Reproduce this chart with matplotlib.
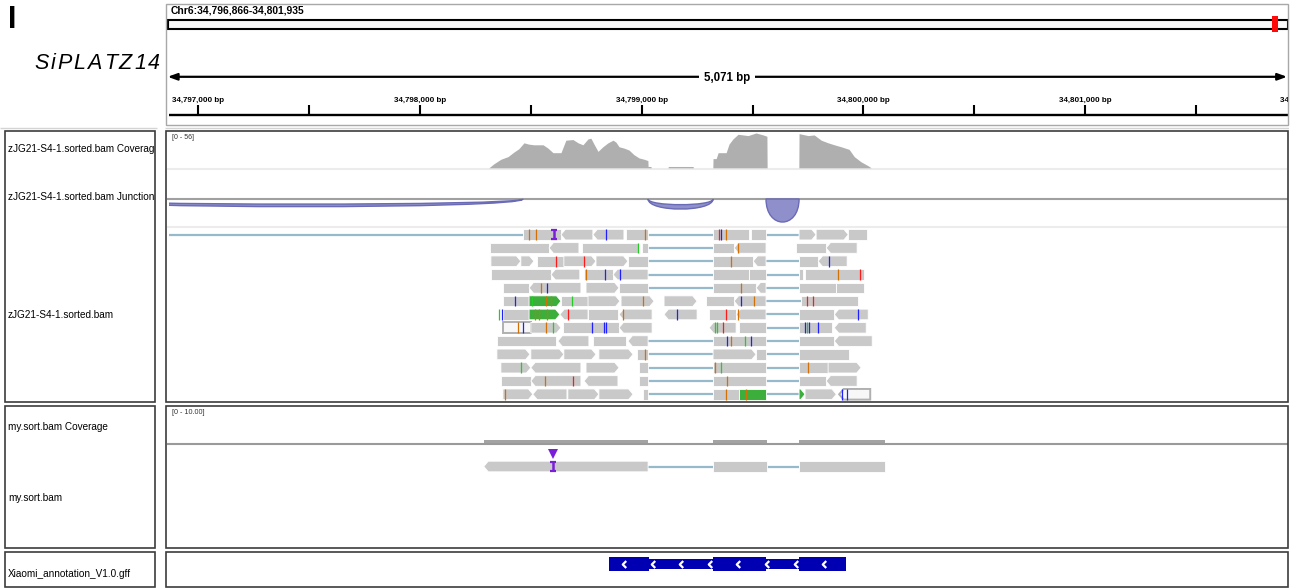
import numpy as np
import matplotlib
matplotlib.use("Agg")
import matplotlib.pyplot as plt
from matplotlib.patches import Rectangle, Polygon, PathPatch
from matplotlib.path import Path

plt.rcParams['font.family'] = ['Liberation Sans', 'DejaVu Sans']

# ---------------- data ----------------
PANEL_TAG = "I"
GENE_NAME = "SiPLATZ14"
CHROM = "Chr6"
START = 34796866
END = 34801935
SPAN_LABEL = "5,071 bp"
CHR_LEN = 35192000

RULER_TICKS = [34797000, 34797500, 34798000, 34798500, 34799000, 34799500,
               34800000, 34800500, 34801000, 34801500, 34802000]
RULER_LABELED = [34797000, 34798000, 34799000, 34800000, 34801000, 34802000]

TRACK_NAMES_1 = ["zJG21-S4-1.sorted.bam Coverage", "zJG21-S4-1.sorted.bam Junctions",
                 "zJG21-S4-1.sorted.bam"]
TRACK_NAMES_2 = ["my.sort.bam Coverage", "my.sort.bam"]
TRACK_NAMES_3 = ["Xiaomi_annotation_V1.0.gff"]
COV1_RANGE = "[0 - 56]"
COV1_MAX = 56
COV2_RANGE = "[0 - 10.00]"
COV2_MAX = 10

# coverage of sample 1 (offset from START in bp, depth)
COV1_POS = [1445, 1467, 1499, 1531, 1558, 1580, 1603, 1625, 1648, 1689, 1711, 1734, 1770,
            1792, 1824, 1847, 1869, 1892, 1905, 1919, 1937, 1959, 1982, 2005, 2018, 2032,
            2054, 2077, 2099, 2122, 2145, 2162, 2163, 2176, 2177, 2253, 2254, 2366, 2367,
            2455, 2456, 2470, 2479, 2515, 2528, 2546, 2569, 2614, 2650, 2682, 2699, 2700,
            2843, 2844, 2885, 2912, 2944, 2975, 3003, 3034, 3070, 3093, 3124, 3156, 3169]
COV1_VAL = [0, 6, 13, 17, 24, 29, 38, 36, 35, 35, 30, 23, 23,
            42, 43, 38, 35, 44, 45, 36, 25, 32, 38, 42, 39, 32,
            30, 27, 20, 15, 13, 11, 2, 2, 0, 0, 2, 2, 0,
            0, 14, 14, 23, 23, 36, 44, 51, 49, 53, 50, 48, 0,
            0, 52, 49, 50, 42, 38, 35, 32, 28, 17, 9, 3, 0]

# splice junctions (offsets, read depth)
JUNC_START = [-406, 2163, 2695]
JUNC_END = [1598, 2456, 2844]
JUNC_DEPTH = [3.2, 4.2, 9.6]

# alignments of sample 1, one list per row: blocks (offsets), strand, fill
ROW_BLOCKS = [
    [[(-450, -300), (1598, 1770)], [(1770, 1914)], [(1914, 2054)], [(2063, 2163), (2456, 2619)],
     [(2628, 2695), (2844, 2921)], [(2921, 3066)], [(3066, 3151)]],
    [[(1449, 1716)], [(1716, 1851)], [(1865, 2118)], [(2136, 2163), (2456, 2551)], [(2551, 2695)],
     [(2831, 2966)], [(2966, 3106)]],
    [[(1454, 1589)], [(1589, 1648)], [(1661, 1783)], [(1783, 1928)], [(1928, 2072)],
     [(2072, 2163), (2456, 2637)], [(2637, 2695), (2844, 2930)], [(2930, 3061)]],
    [[(1454, 1725)], [(1725, 1855)], [(1874, 2005)], [(2005, 2163), (2456, 2620)],
     [(2620, 2695), (2844, 2860)], [(2870, 3138)]],
    [[(1508, 1626)], [(1626, 1860)], [(1883, 2032)], [(2032, 2163), (2456, 2650)],
     [(2650, 2695), (2844, 3012)], [(3012, 3138)]],
    [[(1508, 1626)], [(1626, 1770)], [(1770, 1892)], [(1892, 2036)], [(2041, 2190)],
     [(2235, 2384)], [(2425, 2551)], [(2551, 2695), (2853, 3111)]],
    [[(1508, 1626)], [(1626, 1765)], [(1765, 1892)], [(1892, 2027)], [(2032, 2181)],
     [(2235, 2384)], [(2438, 2560)], [(2560, 2695), (2844, 3003)], [(3003, 3156)]],
    [[(1508, 1634)], [(1634, 1770)], [(1779, 2032)], [(2032, 2181)], [(2438, 2560)],
     [(2574, 2695), (2844, 2994)], [(3003, 3147)]],
    [[(1481, 1747)], [(1756, 1896)], [(1914, 2063)], [(2072, 2163), (2456, 2695), (2844, 3003)],
     [(3003, 3174)]],
    [[(1481, 1630)], [(1634, 1783)], [(1783, 1928)], [(1941, 2095)], [(2113, 2163), (2456, 2650)],
     [(2650, 2695), (2844, 3070)]],
    [[(1499, 1634)], [(1634, 1860)], [(1883, 2032)], [(2122, 2163), (2456, 2695), (2844, 2975)],
     [(2975, 3124)]],
    [[(1499, 1634)], [(1634, 1860)], [(1874, 2027)], [(2122, 2163), (2456, 2695), (2844, 2966)],
     [(2966, 3106)]],
    [[(1508, 1643)], [(1643, 1797)], [(1801, 1941)], [(1941, 2095)], [(2140, 2163), (2456, 2574)],
     [(2574, 2695), (2844, 2871)], [(2871, 3012)], [(3025, 3165)]],
]
ROW_STRANDS = [" -- ++ ", " -  - -", "++ ++ --", " - -  ", " -+ - ", " + +++ -",
               " +- -- --", " + -- -", " - --", "+++++ ", "+-+ +", " -- -", "+-++ ++-"]
ROW_FILLS = ["ggggggg", "ggggggg", "gggggggg", "gggggg", "gggggg", "gGgggggg",
             "gGggggggg", "Wgggggg", "ggggg", "gggggg", "ggggg", "ggggg", "gggggGgW"]

# mismatched bases: row, offset, base
MM_ROW = [0, 0, 0, 0, 0, 0, 0, 1, 1, 2, 2, 2, 2, 3, 3, 3, 3, 3, 4, 4, 4,
          5, 5, 5, 5, 5, 5, 5, 5, 5, 5,
          6, 6, 6, 6, 6, 6, 6, 6, 6, 6, 6,
          7, 7, 7, 7, 7, 7, 7, 7, 7, 7, 7, 7, 7, 7,
          8, 8, 8, 8, 9, 10, 10, 10, 10, 11, 11, 11, 12, 12, 12, 12, 12]
MM_POS = [1625, 1657, 1973, 2149, 2483, 2492, 2515, 2118, 2569, 1747, 1874, 2537, 2980,
          1883, 1969, 2036, 3021, 3120, 1680, 1707, 2583,
          1562, 1640, 1702, 1725, 1820, 2140, 2583, 2642, 2881, 2908,
          1490, 1503, 1652, 1670, 1706, 1802, 2050, 2294, 2515, 2569, 3111,
          1575, 1598, 1702, 1734, 1910, 1964, 1973, 2465, 2474, 2501, 2871, 2881, 2890, 2930,
          2519, 2537, 2601, 2628, 2149, 1589, 2465, 2492, 2885, 1697, 1825, 2519,
          1517, 2515, 2605, 3039, 3061]
MM_BASE = ("GGCGTCG" "AG" "TTGC" "GCCGT" "GCG"
           "CAGGAGCGTT"
           "ACGGGTGCTGC"
           "GCGACCCAATCACC"
           "CGAC" "G" "AGAG" "GTG" "GGGCC")
INS1_ROW, INS1_POS = 0, 1738

# alignment of sample 2
COV2_BLOCKS = [(1422, 2163), (2456, 2700), (2844, 3233)]
COV2_DEPTH = 1
READ2_BLOCKS = [(1422, 2163), (2456, 2700), (2844, 3233)]
READ2_STRAND = "-"
INS2_POS = 1734

# gene annotation
GENE_SPAN = (1987, 3057)
GENE_EXONS = [(1987, 2167), (2456, 2695), (2844, 3057)]

# ---------------- drawing ----------------
W, H, DPI = 1297, 588, 100
fig = plt.figure(figsize=(W / DPI, H / DPI), dpi=DPI)
fig.patch.set_facecolor('white')
renderer = fig.canvas.get_renderer()


def px_axes(x0, y0, x1, y1, z=1):
    ax = fig.add_axes([x0 / W, 1 - y1 / H, (x1 - x0) / W, (y1 - y0) / H])
    ax.set_axis_off()
    ax.set_zorder(z)
    return ax


DX0, DX1 = 168.6, 1292.3   # pixel extent of the genomic window
BASE_COL = {'A': '#22cc22', 'C': '#2020ff', 'G': '#d17105', 'T': '#ff1a1a'}
READ_GREY = '#c9c9c9'
SPLICE_COL = '#96b9cc'
TIP = 20  # arrow tip length in bp

bg = px_axes(0, 0, W, H)
bg.set_xlim(0, W)
bg.set_ylim(H, 0)

# panel tag and gene name (tracked lettering spanning x 34..160 px)
bg.text(7.5, 28.5, PANEL_TAG, fontsize=22, fontweight='bold', va='baseline', ha='left')
name_texts = [bg.text(0, 69, ch, fontsize=15.5, fontstyle='italic', va='baseline', ha='left')
              for ch in GENE_NAME]
widths = [t.get_window_extent(renderer).width for t in name_texts]
track = (126 - sum(widths)) / (len(widths) - 1)
x = 34.0
for t, w in zip(name_texts, widths):
    t.set_x(x)
    x += w + track

# separators in panels
bg.hlines(169, 167, 1288, color='#ececec', lw=1.5)
bg.hlines(198.5, 167, 1288, color='#a0a0a0', lw=1.5)
bg.hlines(226.5, 167, 1288, color='#ececec', lw=1.5)
bg.hlines(444, 167, 1288, color='#9a9a9a', lw=1.5)
bg.hlines(127.5, 0, 157, color='#d4d4d4', lw=1)
bg.hlines(127.5, 165, W, color='#d4d4d4', lw=1)
bg.text(172, 137.5, COV1_RANGE, fontsize=5, va='center', ha='left', color='#333333')
bg.text(172, 412.5, COV2_RANGE, fontsize=5.2, va='center', ha='left', color='#333333')

# ---------- ruler ----------
ax_rf = px_axes(166, 4, 1288, 124)
ax_rf.set_xlim(0, 1)
ax_rf.set_ylim(124, 4)
ax_rf.text(0.0045, 10.8, f"{CHROM}:{START:,}-{END:,}", fontsize=7.4, fontweight='bold',
           va='center', ha='left')
ax_rf.annotate('', xy=(0.0015, 76.8), xytext=(0.9992, 76.8),
               arrowprops=dict(arrowstyle='<|-|>,head_length=0.55,head_width=0.2',
                               lw=1.6, color='black', shrinkA=0, shrinkB=0,
                               mutation_scale=10))
ax_rf.text(0.5, 77.5, SPAN_LABEL, fontsize=8.3, fontweight='bold', ha='center', va='center',
           bbox=dict(fc='white', ec='none', pad=3.5))

ax_r = px_axes(DX0, 4, DX1, 124)
ax_r.set_xlim(START, END)
ax_r.set_ylim(124, 4)
ax_r.hlines(114.6, START, END, color='black', lw=1.7)
ax_r.vlines(RULER_TICKS, 104.8, 114.6, color='black', lw=1.5)
for t in RULER_LABELED:
    ax_r.text(t, 101.5, f"{t:,} bp", fontsize=5.8, fontweight='bold', ha='center',
              va='baseline', clip_on=True)

# ideogram
ax_i = px_axes(168, 15, 1287.5, 33)
ax_i.set_xlim(0, CHR_LEN)
ax_i.set_ylim(33, 15)
ax_i.add_patch(Rectangle((0, 19.6), CHR_LEN, 9, fc='#f8f8f8', ec='black', lw=1.5,
                         clip_on=False))
mid = (START + END) / 2
ax_i.add_patch(Rectangle((mid - 85000, 16.2), 170000, 15.6, fc='#ff0a0a', ec='none',
                         clip_on=False, zorder=3))

# ---------- coverage 1 ----------
ax_c1 = px_axes(DX0, 131, DX1, 167.8)
ax_c1.set_xlim(START, END)
ax_c1.set_ylim(0, COV1_MAX)
ax_c1.fill_between(START + np.array(COV1_POS), COV1_VAL, 0, color='#afafaf', lw=0)

# ---------- junctions ----------
JPX = 2.4
ax_j = px_axes(DX0, 170, DX1, 226.5)
ax_j.set_xlim(START, END)
ax_j.set_ylim((226.5 - 199) / JPX, (170 - 199) / JPX)
dmax = max(JUNC_DEPTH)
for s, e, d in zip(JUNC_START, JUNC_END, JUNC_DEPTH):
    s += START
    e += START
    h_out = d * 4 / 3
    h_in = d * (1 - d / dmax) * 4 / 3
    verts = [(s, 0), (s, h_out), (e, h_out), (e, 0),
             (e, h_in), (s, h_in), (s, 0), (s, 0)]
    codes = [Path.MOVETO, Path.CURVE4, Path.CURVE4, Path.CURVE4,
             Path.CURVE4, Path.CURVE4, Path.CURVE4, Path.CLOSEPOLY]
    ax_j.add_patch(PathPatch(Path(verts, codes), fc='#8f8fcb', ec='#6a6ab6', lw=1.0))


# ---------- reads ----------
def draw_read(ax, row, blocks, strand, fill, hh=0.4):
    fc = {'g': READ_GREY, 'G': '#3cae3c', 'W': '#f7f7f7'}[fill]
    ec = {'g': 'white', 'G': 'white', 'W': '#b0b0b0'}[fill]
    lw = 1.4 if fill == 'W' else 0.6
    n = len(blocks)
    for i in range(n - 1):
        ax.hlines(row, START + blocks[i][1], START + blocks[i + 1][0], color=SPLICE_COL,
                  lw=1.6, zorder=1)
    for i, (s, e) in enumerate(blocks):
        s += START
        e += START
        top, bot = row - hh, row + hh
        if strand == '+' and i == n - 1:
            pts = [(s, top), (e - TIP, top), (e, row), (e - TIP, bot), (s, bot)]
        elif strand == '-' and i == 0:
            pts = [(s + TIP, top), (e, top), (e, bot), (s + TIP, bot), (s, row)]
        else:
            pts = [(s, top), (e, top), (e, bot), (s, bot)]
        ax.add_patch(Polygon(pts, closed=True, fc=fc, ec=ec, lw=lw, zorder=2))


ax_a1 = px_axes(DX0, 228, DX1, 402)
ax_a1.set_xlim(START, END)
ax_a1.set_ylim(12.58, -0.5)
for row, (blocks_l, strands, fills) in enumerate(zip(ROW_BLOCKS, ROW_STRANDS, ROW_FILLS)):
    for blocks, strand, fill in zip(blocks_l, strands, fills):
        draw_read(ax_a1, row, blocks, strand, fill)
for row, pos, base in zip(MM_ROW, MM_POS, MM_BASE):
    ax_a1.vlines(START + pos, row - 0.4, row + 0.4, color=BASE_COL[base], lw=0.9, zorder=3)
PURPLE = '#7a1fd8'
ax_a1.vlines(START + INS1_POS, INS1_ROW - 0.36, INS1_ROW + 0.36, color=PURPLE, lw=1.8, zorder=4)
ax_a1.plot([START + INS1_POS] * 2, [INS1_ROW - 0.36, INS1_ROW + 0.36], ls='none', marker='_',
           ms=5, mew=1.6, color=PURPLE, zorder=4)

# ---------- coverage 2 ----------
ax_c2 = px_axes(DX0, 407, DX1, 443.3)
ax_c2.set_xlim(START, END)
ax_c2.set_ylim(0, COV2_MAX)
for s, e in COV2_BLOCKS:
    ax_c2.bar(START + s, COV2_DEPTH, width=e - s, align='edge', color='#a3a3a3', lw=0)

# ---------- reads 2 ----------
ax_a2 = px_axes(DX0, 445, DX1, 547)
ax_a2.set_xlim(START, END)
ax_a2.set_ylim(6.05, -1.617)
draw_read(ax_a2, 0, READ2_BLOCKS, READ2_STRAND, 'g')
ax_a2.vlines(START + INS2_POS, -0.36, 0.36, color=PURPLE, lw=1.8, zorder=4)
ax_a2.plot([START + INS2_POS] * 2, [-0.36, 0.36], ls='none', marker='_', ms=5, mew=1.6,
           color=PURPLE, zorder=4)
ax_a2.plot([START + INS2_POS], [-0.92], ls='none', marker='v', ms=7.5, color=PURPLE, mew=0)

# ---------- gene annotation ----------
ax_g = px_axes(DX0, 553, DX1, 586)
ax_g.set_xlim(START, END)
ax_g.set_ylim(586, 553)
GENE_BLUE = '#0000b2'
ax_g.add_patch(Rectangle((START + GENE_SPAN[0], 559.2), GENE_SPAN[1] - GENE_SPAN[0], 10,
                         fc=GENE_BLUE, ec='none'))
for s, e in GENE_EXONS:
    ax_g.add_patch(Rectangle((START + s, 556.8), e - s, 14.3, fc=GENE_BLUE, ec='none'))
chev = Path([(0.45, 0.9), (-0.45, 0.0), (0.45, -0.9)], [Path.MOVETO, Path.LINETO, Path.LINETO])
xs = START + np.arange(GENE_SPAN[0] + 67, GENE_SPAN[1], 129)
ax_g.plot(xs, [564] * len(xs), ls='none', marker=chev, ms=5, mew=1.6, mec='white',
          mfc='none', zorder=5)

# ---------- track names ----------
for (y0, y1), names, ys in [((130, 402), TRACK_NAMES_1, [149, 197, 315]),
                            ((406, 547), TRACK_NAMES_2, [427, 498]),
                            ((552, 587), TRACK_NAMES_3, [574])]:
    axn = px_axes(4.5, y0, 155, y1)
    axn.set_xlim(4.5, 155)
    axn.set_ylim(y1, y0)
    for name, y in zip(names, ys):
        axn.text(8, y, name, fontsize=7.2, va='center', ha='left', clip_on=True)

# ---------- overlay: mask + borders ----------
ov = px_axes(0, 0, W, H, z=50)
ov.set_xlim(0, W)
ov.set_ylim(H, 0)
ov.add_patch(Rectangle((1288.8, 0), 20, H, fc='white', ec='none'))
ov.add_patch(Rectangle((166, 3.5), 1288 - 166, 121, fill=False, ec='#a8a8a8', lw=1))
BORDER = '#3c3c3c'
for y0, y1 in [(130.5, 401.8), (406, 547.5), (551.8, 586.6)]:
    ov.add_patch(Rectangle((4.5, y0), 155 - 4.5, y1 - y0, fill=False, ec=BORDER, lw=1.2))
    ov.add_patch(Rectangle((166.3, y0), 1288 - 166.3, y1 - y0, fill=False, ec=BORDER, lw=1.2))

fig.savefig("out.png", dpi=DPI, facecolor='white')
